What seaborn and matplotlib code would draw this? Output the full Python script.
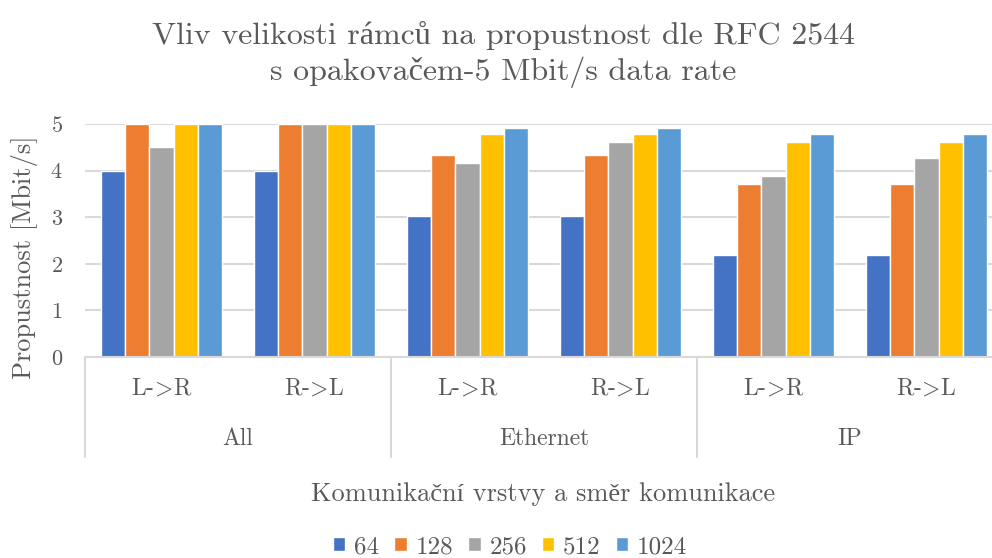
import pandas as pd
import numpy as np
import matplotlib.pyplot as plt
import seaborn as sns

sns.set_style('white')
plt.rcParams['font.family'] = ['cmr10', 'Liberation Serif']
plt.rcParams['mathtext.fontset'] = 'cm'
plt.rcParams['axes.formatter.use_mathtext'] = True

# data
layers = ['All', 'Ethernet', 'IP']
directions = [r'L-$\!>\!$R', r'R-$\!>\!$L']
frame_sizes = ['64', '128', '256', '512', '1024']
v_64 = [4.0, 4.0, 3.02, 3.02, 2.18, 2.18]
v_128 = [5.0, 5.0, 4.34, 4.34, 3.71, 3.71]
v_256 = [4.5, 5.0, 4.16, 4.62, 3.88, 4.28]
v_512 = [5.0, 5.0, 4.79, 4.79, 4.62, 4.62]
v_1024 = [5.0, 5.0, 4.91, 4.91, 4.79, 4.79]
colors = ['#4472C4', '#ED7D31', '#A5A5A5', '#FFC000', '#5B9BD5']

groups = [l + ' ' + d for l in layers for d in directions]
rows = []
for size, vals in zip(frame_sizes, [v_64, v_128, v_256, v_512, v_1024]):
    for g, v in zip(groups, vals):
        rows.append({'group': g, 'size': size, 'value': v})
df = pd.DataFrame(rows)

txt = '#595959'
grid = '#D9D9D9'

fig, ax = plt.subplots(figsize=(9.92, 5.58), dpi=100)
fig.subplots_adjust(left=85/992, right=1003/992, top=1-124/558, bottom=1-357/558)

sns.barplot(data=df, x='group', y='value', hue='size', order=groups,
            hue_order=frame_sizes, palette=colors, width=0.785, ax=ax,
            saturation=1, legend=True)

ax.set_ylim(0, 5)
ax.set_yticks(range(0, 6))
ax.set_xlim(-0.5, len(groups) - 0.5)
ax.yaxis.grid(True, color=grid, linewidth=1.5)
ax.set_axisbelow(True)
for s in ['top', 'right', 'left']:
    ax.spines[s].set_visible(False)
ax.spines['bottom'].set_color(grid)
ax.spines['bottom'].set_linewidth(1.5)
ax.tick_params(axis='y', length=0, labelsize=16, labelcolor=txt, pad=16)
ax.set_xticks(range(len(groups)))
ax.set_xticklabels([])
ax.tick_params(axis='x', length=0)
ax.set_xlabel('')
ax.set_ylabel('')

# hierarchical category axis
trans = ax.get_xaxis_transform()
for i, g in enumerate(groups):
    ax.text(i, -0.137, directions[i % 2], transform=trans, ha='center',
            va='center', fontsize=17, color=txt)
for i, layer in enumerate(layers):
    ax.text(2 * i + 0.5, -0.352, layer, transform=trans, ha='center',
            va='center', fontsize=17, color=txt)
for xb in [-0.5, 1.5, 3.5, 5.5]:
    ax.plot([xb, xb], [0, -0.429], transform=trans, color=grid,
            linewidth=1.5, clip_on=False)

fig.text(543/992, 1-494/558, 'Komunikační vrstvy a směr komunikace',
         fontsize=19, color=txt, ha='center', va='center')
fig.text(25/992, 1-257/558, 'Propustnost [Mbit/s]', fontsize=19,
         color=txt, ha='center', va='center', rotation=90)

fig.text(503/992, 1-35/558, 'Vliv velikosti rámců na propustnost dle RFC 2544',
         fontsize=23, color=txt, ha='center', va='center')
fig.text(503/992, 1-72/558, 's opakovačem-5 Mbit/s data rate',
         fontsize=23, color=txt, ha='center', va='center')

ax.get_legend().remove()
handles, labels = ax.get_legend_handles_labels()
fig.legend(handles, labels, loc='center', bbox_to_anchor=(510/992, 1-547/558),
           ncol=5, frameon=False, fontsize=18, handlelength=0.5,
           handleheight=0.5, handletextpad=0.35, columnspacing=0.6,
           labelcolor=txt)

fig.savefig('out.png', dpi=100)
